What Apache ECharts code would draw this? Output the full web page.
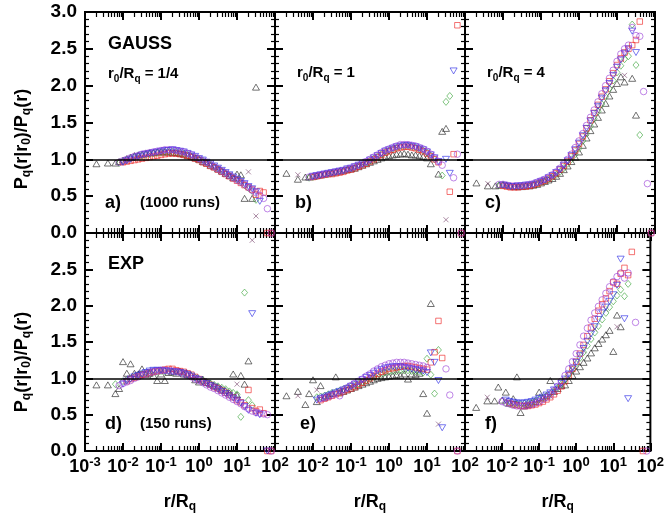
<!DOCTYPE html>
<html>
<head>
<meta charset="utf-8">
<script src="https://cdn.jsdelivr.net/npm/echarts@6/dist/echarts.min.js"></script>
<style>
  html, body { margin: 0; padding: 0; background: #fff; }
  #chart { width: 667px; height: 514px; }
</style>
</head>
<body>
<div id="chart"></div>
<script>
const _ = null;

// r/Rq sample points, 10 per decade from 10^-2.7 to 10^1.9
const rGrid = [0.002, 0.0025, 0.0032, 0.004, 0.005, 0.0063, 0.0079, 0.01, 0.0126, 0.0158,
  0.02, 0.0251, 0.0316, 0.0398, 0.0501, 0.0631, 0.0794, 0.1, 0.126, 0.158,
  0.2, 0.251, 0.316, 0.398, 0.501, 0.631, 0.794, 1, 1.26, 1.58,
  2, 2.51, 3.16, 3.98, 5.01, 6.31, 7.94, 10, 12.6, 15.8,
  20, 25.1, 31.6, 39.8, 50.1, 63.1, 79.4];

// a) GAUSS, r0/Rq = 1/4
const aTri = [.94,_,_,.95,_,.95,.97,.99,1.01,1.03, 1.05,1.06,1.07,1.08,1.09,1.09,1.10,1.10,1.10,1.10, 1.09,1.09,1.08,1.07,1.05,1.04,1.02,1.00,.97,.95, .92,.90,.87,.84,.81,.78,.75,.80,.79,.47, _,.47,1.98,_,_,_,_];
const aSqr = [_,_,_,_,_,_,_,.96,.97,.98, .99,1.00,1.01,1.02,1.03,1.04,1.05,1.06,1.07,1.08, 1.08,1.08,1.07,1.06,1.05,1.03,1.01,.99,.96,.94, .91,.89,.86,.83,.80,.77,.74,.71,.68,.65, .62,.59,.52,.57,.55,0,0];
const aDia = [_,_,_,_,_,_,.95,.97,.99,1.01, 1.03,1.04,1.05,1.06,1.07,1.08,1.09,1.10,1.10,1.11, 1.10,1.10,1.09,1.08,1.06,1.04,1.02,1.00,.98,.95, .93,.90,.87,.84,.81,.78,.75,.72,.69,.65, .61,.57,.45,_,_,_,_];
const aInv = [_,_,_,_,_,_,_,.96,.98,1.00, 1.02,1.04,1.06,1.07,1.08,1.09,1.10,1.11,1.12,1.12, 1.13,1.12,1.11,1.10,1.08,1.06,1.04,1.01,.99,.96, .94,.91,.88,.85,.82,.79,.76,.73,.70,.67, .63,.60,.56,.43,_,_,_];
const aCir = [_,_,_,_,_,_,.96,.98,1.00,1.02, 1.04,1.05,1.07,1.08,1.09,1.10,1.11,1.12,1.13,1.13, 1.13,1.12,1.11,1.10,1.08,1.06,1.03,1.01,.98,.96, .93,.90,.87,.84,.81,.78,.75,.72,.69,.66, .62,.58,.55,.51,.47,.33,0];
const aCrs = [_,_,_,_,_,_,_,_,1.00,_, _,1.05,_,_,1.08,_,_,1.10,_,_, 1.10,_,_,1.08,_,_,1.03,_,_,.96, _,_,.88,_,_,.79,_,_,.70,_, .83,_,.23,_,_,_,_];

// b) GAUSS, r0/Rq = 1
const bTri = [.81,_,_,.73,_,.76,.76,.77,.78,.79, .80,.81,.82,.83,.84,.85,.86,.87,.88,.90, .92,.94,.96,.98,1.00,1.02,1.04,1.05,1.06,1.07, 1.07,1.08,1.07,1.06,1.06,1.05,1.04,1.02,.94,_, .80,1.38,1.42,_,_,_,_];
const bSqr = [_,_,_,_,_,_,_,.76,.77,.78, .79,.80,.80,.81,.82,.83,.85,.86,.88,.90, .92,.94,.97,1.00,1.03,1.06,1.09,1.11,1.13,1.15, 1.16,1.17,1.17,1.16,1.15,1.13,1.11,1.08,1.04,1.00, .96,_,_,.56,1.07,2.82,0];
const bDia = [_,_,_,_,_,_,.75,.76,.77,.78, .79,.80,.81,.82,.83,.84,.86,.87,.89,.91, .93,.95,.98,1.01,1.04,1.07,1.10,1.12,1.14,1.16, 1.17,1.18,1.18,1.17,1.16,1.14,1.12,1.09,1.05,1.00, _,.78,1.78,1.86,_,_,_];
const bInv = [_,_,_,_,_,_,_,.77,.78,.79, .80,.81,.82,.83,.84,.85,.87,.88,.90,.92, .94,.96,.99,1.02,1.05,1.08,1.11,1.13,1.15,1.17, 1.18,1.19,1.19,1.18,1.17,1.15,1.13,1.10,1.06,1.02, .97,_,1.00,.81,2.20,_,_];
const bCir = [_,_,_,_,_,_,.76,.77,.78,.79, .80,.81,.82,.83,.84,.85,.87,.88,.90,.92, .94,.97,1.00,1.03,1.06,1.09,1.12,1.14,1.16,1.18, 1.20,1.20,1.20,1.19,1.18,1.16,1.14,1.11,1.07,1.02, .97,.92,_,_,.75,1.07,0];
const bCrs = [_,_,_,.79,_,_,_,_,.78,_, _,.81,_,_,.84,_,_,.87,_,_, .93,_,_,1.01,_,_,1.10,_,_,1.16, _,_,1.18,_,_,1.14,_,_,1.05,_, _,_,.18,_,_,_,_];

// c) GAUSS, r0/Rq = 4
const cTri = [.68,_,_,.64,_,.64,.65,.66,.65,.64, .63,.63,.63,.64,.64,.65,.66,.68,.70,.72, .74,.77,.81,.86,.91,.97,1.03,1.10,1.19,1.29, 1.39,1.48,1.57,1.67,1.76,1.86,1.95,2.03,2.12,2.05, _,2.10,1.60,_,_,_,_];
const cSqr = [_,_,_,_,_,_,_,.64,.63,.62, .62,.62,.63,.63,.64,.65,.67,.69,.71,.74, .77,.81,.86,.91,.97,1.04,1.12,1.21,1.31,1.42, 1.53,1.63,1.74,1.85,1.95,2.06,2.17,2.28,2.37,2.45, 2.50,2.55,2.62,2.87,_,_,0];
const cDia = [_,_,_,_,_,_,.65,.65,.64,.63, .63,.63,.64,.64,.65,.66,.67,.69,.71,.73, .76,.79,.83,.88,.94,1.00,1.07,1.15,1.25,1.35, 1.45,1.55,1.65,1.75,1.85,1.96,2.07,2.18,2.27,2.36, 2.40,2.83,2.28,1.33,_,_,_];
const cInv = [_,_,_,_,_,_,_,.65,.64,.63, .63,.64,.64,.65,.65,.66,.68,.70,.72,.75, .78,.82,.86,.92,.98,1.05,1.13,1.22,1.32,1.42, 1.52,1.62,1.72,1.83,1.93,2.03,2.14,2.25,2.35,2.44, 2.50,2.74,2.45,_,_,_,_];
const cCir = [_,_,_,_,_,_,.66,.66,.65,.64, .64,.64,.64,.65,.66,.67,.69,.71,.73,.76, .79,.83,.88,.94,1.00,1.07,1.16,1.25,1.35,1.46, 1.57,1.67,1.78,1.89,2.00,2.10,2.21,2.33,2.43,2.50, 2.55,2.79,2.68,2.67,1.92,.67,0];
const cCrs = [_,_,_,.67,_,_,_,_,.64,_, _,.63,_,_,.65,_,_,.69,_,_, .76,_,_,.89,_,_,1.08,_,_,1.35, _,_,1.70,_,_,2.00,_,_,_,2.14, _,_,_,_,_,_,_];

// d) EXP, r0/Rq = 1/4
const dTri = [.91,_,_,.91,_,.79,.86,1.23,1.07,1.20, 1.07,1.06,1.13,1.05,1.07,1.04,.97,1.06,.97,1.08, 1.09,1.07,1.10,1.06,1.05,1.04,.98,.95,.99,.94, .93,.90,.88,.85,.83,.80,1.06,.77,1.04,.92, 1.24,_,_,_,_,_,_];
const dSqr = [_,_,_,_,_,_,_,_,.96,.99, 1.01,1.03,1.05,1.06,1.08,1.09,1.10,1.11,1.12,1.13, 1.13,1.11,1.10,1.09,1.07,1.05,1.02,.99,.96,.94, .91,.88,.86,.83,.80,.77,.74,.70,.67,.63, .84,.59,.55,.57,.52,0,0];
const dDia = [_,_,_,_,_,.92,_,.96,.98,1.00, 1.02,1.04,1.06,1.07,1.08,1.09,1.09,1.10,1.10,1.10, 1.09,1.09,1.08,1.07,1.05,1.03,1.01,.99,.97,.95, .93,.91,.89,.87,.85,.82,.80,.78,.47,2.18, .70,.63,_,_,_,_,_];
const dInv = [_,_,_,_,_,_,_,.92,.96,.99, 1.02,1.04,1.06,1.08,1.10,1.11,1.11,1.11,1.10,1.10, 1.09,1.09,1.08,1.07,1.05,1.03,1.00,.98,.95,.93, .90,.88,.85,.82,.79,.76,.73,.70,.66,.61, .56,1.89,.52,.50,_,0,_];
const dCir = [_,_,_,_,_,_,.90,.93,.95,.97, 1.00,1.02,1.04,1.06,1.08,1.09,1.10,1.11,1.11,1.10, 1.10,1.09,1.08,1.06,1.04,1.02,.99,.97,.94,.91, .88,.86,.83,.80,.77,.74,.71,.68,.65,.61, .58,.55,.53,.52,.51,.50,0];
const dCrs = [_,_,_,_,_,_,_,_,1.00,_, _,1.05,_,_,1.09,_,_,1.12,_,_, 1.10,_,_,1.09,_,_,1.02,_,_,.93, _,_,.86,_,_,.80,_,.92,_,_, _,2.90,_,_,_,_,_];

// e) EXP, r0/Rq = 1
const eTri = [.76,_,_,.82,_,.64,.79,.98,.68,.90, .74,.76,.79,1.02,.80,.82,.84,.86,.88,.90, .92,.94,.96,.98,1.00,1.01,1.02,1.03,1.04,1.05, 1.04,1.06,.99,1.06,1.05,1.07,.79,.52,2.03,_, _,_,_,_,_,_,_];
const eSqr = [_,_,_,_,_,_,_,_,_,.70, .72,.74,.76,.78,.80,.82,.84,.86,.88,.91, .94,.97,1.00,1.03,1.06,1.09,1.11,1.13,1.14,1.15, 1.16,1.17,1.17,1.16,1.15,1.14,1.13,1.12,1.22,1.36, 1.79,1.28,_,_,_,0,_];
const eDia = [_,_,_,_,_,_,_,_,.74,.75, .76,.78,.80,.81,.83,.85,.87,.89,.91,.93, .95,.97,1.00,1.02,1.04,1.06,1.08,1.09,1.10,1.10, 1.11,1.11,1.11,1.10,1.10,1.09,1.08,1.27,1.05,.79, 1.39,_,_,_,_,_,_];
const eInv = [_,_,_,_,_,_,_,_,.70,.72, .74,.76,.78,.80,.82,.84,.86,.89,.92,.95, .98,1.01,1.04,1.07,1.10,1.12,1.14,1.15,1.16,1.16, 1.16,1.15,1.14,1.13,1.12,1.11,1.10,1.08,1.35,1.22, .97,.32,_,_,_,_,_];
const eCir = [_,_,_,_,_,_,_,_,_,.72, .73,.75,.77,.79,.76,.84,.87,.90,.93,.96, .99,1.03,1.06,1.10,1.13,1.16,1.18,1.20,1.21,1.22, 1.22,1.22,1.21,1.20,1.19,1.18,1.17,1.15,_,_, _,_,1.13,.77,_,0,_];
const eCrs = [_,_,_,.76,_,_,_,_,.84,_, _,.77,_,_,.82,_,_,.88,_,_, .95,_,_,1.03,_,_,1.08,_,_,1.10, _,_,1.12,_,_,1.10,_,_,_,_, .37,_,_,_,_,_,_];

// f) EXP, r0/Rq = 4
const fTri = [.60,_,_,.69,_,.69,.88,.70,.81,.66, .72,1.02,.53,.62,.64,.66,.68,.81,.73,.76, .97,.82,.86,.90,.91,.97,1.04,1.10,1.16,1.22, 1.28,1.35,1.42,1.48,1.54,1.60,1.66,1.37,1.87,1.71, _,_,_,_,_,_,_];
const fSqr = [_,_,_,_,_,_,_,_,_,.66, .64,.63,.62,.62,.62,.63,.64,.66,.68,.71, .74,.78,.83,.89,.96,1.04,1.13,1.23,1.34,1.46, 1.58,1.70,1.82,1.93,2.02,2.10,2.20,2.32,2.30,2.44, 2.52,2.42,2.74,_,_,0,_];
const fDia = [_,_,_,_,_,_,_,_,.66,.65, .64,.64,.64,.65,.66,.67,.69,.71,.73,.76, .79,.83,.87,.92,.98,1.05,1.12,1.20,1.28,1.36, 1.45,1.54,1.63,1.72,1.81,1.90,1.98,2.06,2.14,2.22, 2.13,2.30,_,_,_,_,_];
const fInv = [_,_,_,_,_,_,_,_,.70,.68, .67,.66,.66,.66,.67,.68,.70,.72,.74,.77, .80,.84,.88,.93,.99,1.06,1.14,1.22,1.31,1.41, 1.51,1.61,1.71,1.81,1.90,1.98,2.06,2.15,2.28,2.64, 1.82,.72,_,_,_,_,_];
const fCir = [_,_,_,_,_,_,_,.68,.66,.65, .63,.62,.62,.62,.63,.64,.66,.68,.71,.74, .78,.83,.89,.96,1.04,1.13,1.23,1.34,1.46,1.58, 1.69,1.80,1.90,1.99,2.08,2.17,2.26,2.33,2.40,2.45, 2.38,2.45,_,1.77,_,_,0];
const fCrs = [_,_,_,.74,_,_,_,_,.70,_, _,.66,_,_,.63,_,_,.67,_,_, .75,_,_,.90,_,_,1.12,_,_,1.38, _,_,1.68,_,_,1.95,_,_,1.71,_, _,_,_,_,_,_,_];

const panels = [
  { tri: aTri, sqr: aSqr, dia: aDia, inv: aInv, cir: aCir, crs: aCrs },
  { tri: bTri, sqr: bSqr, dia: bDia, inv: bInv, cir: bCir, crs: bCrs },
  { tri: cTri, sqr: cSqr, dia: cDia, inv: cInv, cir: cCir, crs: cCrs },
  { tri: dTri, sqr: dSqr, dia: dDia, inv: dInv, cir: dCir, crs: dCrs },
  { tri: eTri, sqr: eSqr, dia: eDia, inv: eInv, cir: eCir, crs: eCrs },
  { tri: fTri, sqr: fSqr, dia: fDia, inv: fInv, cir: fCir, crs: fCrs }
];

const FONT = '"Liberation Sans", Arial, Helvetica, sans-serif';

const markers = [
  { key: 'tri', symbol: 'triangle', size: [7, 6], rotate: 0, color: '#222222' },
  { key: 'crs', symbol: 'path://M0,0L10,10M10,0L0,10', size: 5, rotate: 0, color: '#7d4a72' },
  { key: 'dia', symbol: 'diamond', size: [6, 7], rotate: 0, color: '#3aa53a' },
  { key: 'sqr', symbol: 'rect', size: 5.5, rotate: 0, color: '#ee2424' },
  { key: 'inv', symbol: 'triangle', size: [7, 6], rotate: 180, color: '#2b2be6' },
  { key: 'cir', symbol: 'circle', size: 6.5, rotate: 0, color: '#9a40d8' }
];

// log-decade minor tick positions (2..9 x 10^n), in log10 units
const minorX = [];
for (let n = -3; n < 2; n++) {
  for (let k = 2; k < 10; k++) minorX.push(n + Math.log10(k));
}

const lefts = [85, 275, 465];
const tops = [12, 233];
const heights = [221, 222];

const supRich = {
  b: { fontSize: 18, fontWeight: 'bold', fontFamily: FONT, color: '#000', lineHeight: 22 },
  s: { fontSize: 13, fontWeight: 'bold', fontFamily: FONT, color: '#000', lineHeight: 12, verticalAlign: 'top' }
};
const subRich = {
  m: { fontSize: 18, fontWeight: 'bold', fontFamily: FONT, color: '#000', fill: '#000', lineHeight: 22 },
  s: { fontSize: 12, fontWeight: 'bold', fontFamily: FONT, color: '#000', fill: '#000', lineHeight: 12, verticalAlign: 'bottom' }
};
const smallRich = {
  m: { fontSize: 15, fontWeight: 'bold', fontFamily: FONT, fill: '#000', lineHeight: 20 },
  s: { fontSize: 10, fontWeight: 'bold', fontFamily: FONT, fill: '#000', lineHeight: 10, verticalAlign: 'bottom' }
};

const grid = [], xAxis = [], yAxis = [], series = [];

panels.forEach((p, g) => {
  const row = Math.floor(g / 3), col = g % 3;
  grid.push({
    left: lefts[col], top: tops[row], width: 190, height: heights[row],
    show: true, borderColor: '#000', borderWidth: 2, backgroundColor: 'transparent'
  });

  const baseX = {
    gridIndex: g, type: 'value', min: -3, max: 2, interval: 1,
    axisLine: { show: false, onZero: false }, splitLine: { show: false }
  };
  xAxis.push(Object.assign({}, baseX, {
    position: 'bottom',
    axisTick: { show: true, inside: true, length: 8, lineStyle: { color: '#000', width: 2 } },
    axisLabel: {
      show: row === 1, showMinLabel: col === 0, showMaxLabel: true, margin: 5,
      formatter: v => '{b|10}{s|' + v + '}', rich: supRich
    },
    name: row === 1 ? '{m|r/R}{s|q}' : '',
    nameLocation: 'middle', nameGap: 40,
    nameTextStyle: { rich: subRich }
  }));
  xAxis.push(Object.assign({}, baseX, {
    position: 'top',
    axisTick: { show: true, inside: true, length: 8, lineStyle: { color: '#000', width: 2 } },
    axisLabel: { show: false }
  }));
  ['bottom', 'top'].forEach(pos => {
    xAxis.push(Object.assign({}, baseX, {
      position: pos,
      axisTick: { show: true, inside: true, length: 5, customValues: minorX, lineStyle: { color: '#000', width: 1.2 } },
      axisLabel: { show: false }
    }));
  });

  const baseY = {
    gridIndex: g, type: 'value', min: 0, max: 3, interval: 0.5,
    axisLine: { show: false, onZero: false }, splitLine: { show: false },
    axisTick: { show: true, inside: true, length: 8, lineStyle: { color: '#000', width: 2 } },
    minorTick: { show: true, splitNumber: 5, length: 4, lineStyle: { color: '#000', width: 1.2 } }
  };
  yAxis.push(Object.assign({}, baseY, {
    position: 'left',
    axisLabel: {
      show: col === 0, showMaxLabel: row === 0, showMinLabel: true, margin: 8,
      formatter: v => v.toFixed(1),
      fontSize: 19, fontWeight: 'bold', fontFamily: FONT, color: '#000'
    }
  }));
  yAxis.push(Object.assign({}, baseY, { position: 'right', axisLabel: { show: false } }));

  markers.forEach((m, j) => {
    const vals = p[m.key];
    const data = [];
    rGrid.forEach((r, i) => {
      const v = vals[i];
      if (v !== null && v !== undefined) data.push([Math.log10(r), v]);
    });
    const s = {
      type: 'scatter', xAxisIndex: 4 * g, yAxisIndex: 2 * g,
      data, symbol: m.symbol, symbolSize: m.size, symbolRotate: m.rotate,
      itemStyle: { color: 'rgba(0,0,0,0)', borderColor: m.color, borderWidth: 0.8 },
      emphasis: { disabled: true }, silent: true, clip: true, z: 3
    };
    if (j === 0) {
      s.markLine = {
        silent: true, symbol: 'none', animation: false,
        label: { show: false },
        lineStyle: { color: '#000', width: 1.6, type: 'solid' },
        data: [{ yAxis: 1 }]
      };
    }
    series.push(s);
  });
});

function label(x, y, text, rich, rotation) {
  return {
    type: 'text', x, y, rotation: rotation || 0, silent: true, z: 10,
    style: {
      text, rich, fill: '#000',
      align: rotation ? 'center' : 'left', textAlign: rotation ? 'center' : 'left',
      verticalAlign: 'middle', textVerticalAlign: 'middle'
    }
  };
}
const bigRich = { m: { fontSize: 18, fontWeight: 'bold', fontFamily: FONT, fill: '#000', lineHeight: 22 } };
const runsRich = { m: { fontSize: 15, fontWeight: 'bold', fontFamily: FONT, fill: '#000', lineHeight: 20 } };
const yTitle = '{m|P}{s|q}{m|(r|r}{s|0}{m|)/P}{s|q}{m|(r)}';

const graphic = [
  label(22, 139, yTitle, subRich, Math.PI / 2),
  label(22, 362, yTitle, subRich, Math.PI / 2),
  label(108, 44, '{m|GAUSS}', bigRich),
  label(108, 74, '{m|r}{s|0}{m|/R}{s|q}{m| = 1/4}', smallRich),
  label(105, 203, '{m|a)}', bigRich),
  label(140, 203, '{m|(1000 runs)}', runsRich),
  label(297, 73, '{m|r}{s|0}{m|/R}{s|q}{m| = 1}', smallRich),
  label(295, 203, '{m|b)}', bigRich),
  label(487, 73, '{m|r}{s|0}{m|/R}{s|q}{m| = 4}', smallRich),
  label(485, 203, '{m|c)}', bigRich),
  label(108, 264, '{m|EXP}', bigRich),
  label(105, 424, '{m|d)}', bigRich),
  label(140, 424, '{m|(150 runs)}', runsRich),
  label(300, 424, '{m|e)}', bigRich),
  label(485, 424, '{m|f)}', bigRich)
];

const chart = echarts.init(document.getElementById('chart'));
chart.setOption({
  animation: false,
  backgroundColor: '#fff',
  grid, xAxis, yAxis, series, graphic
});
</script>
</body>
</html>
